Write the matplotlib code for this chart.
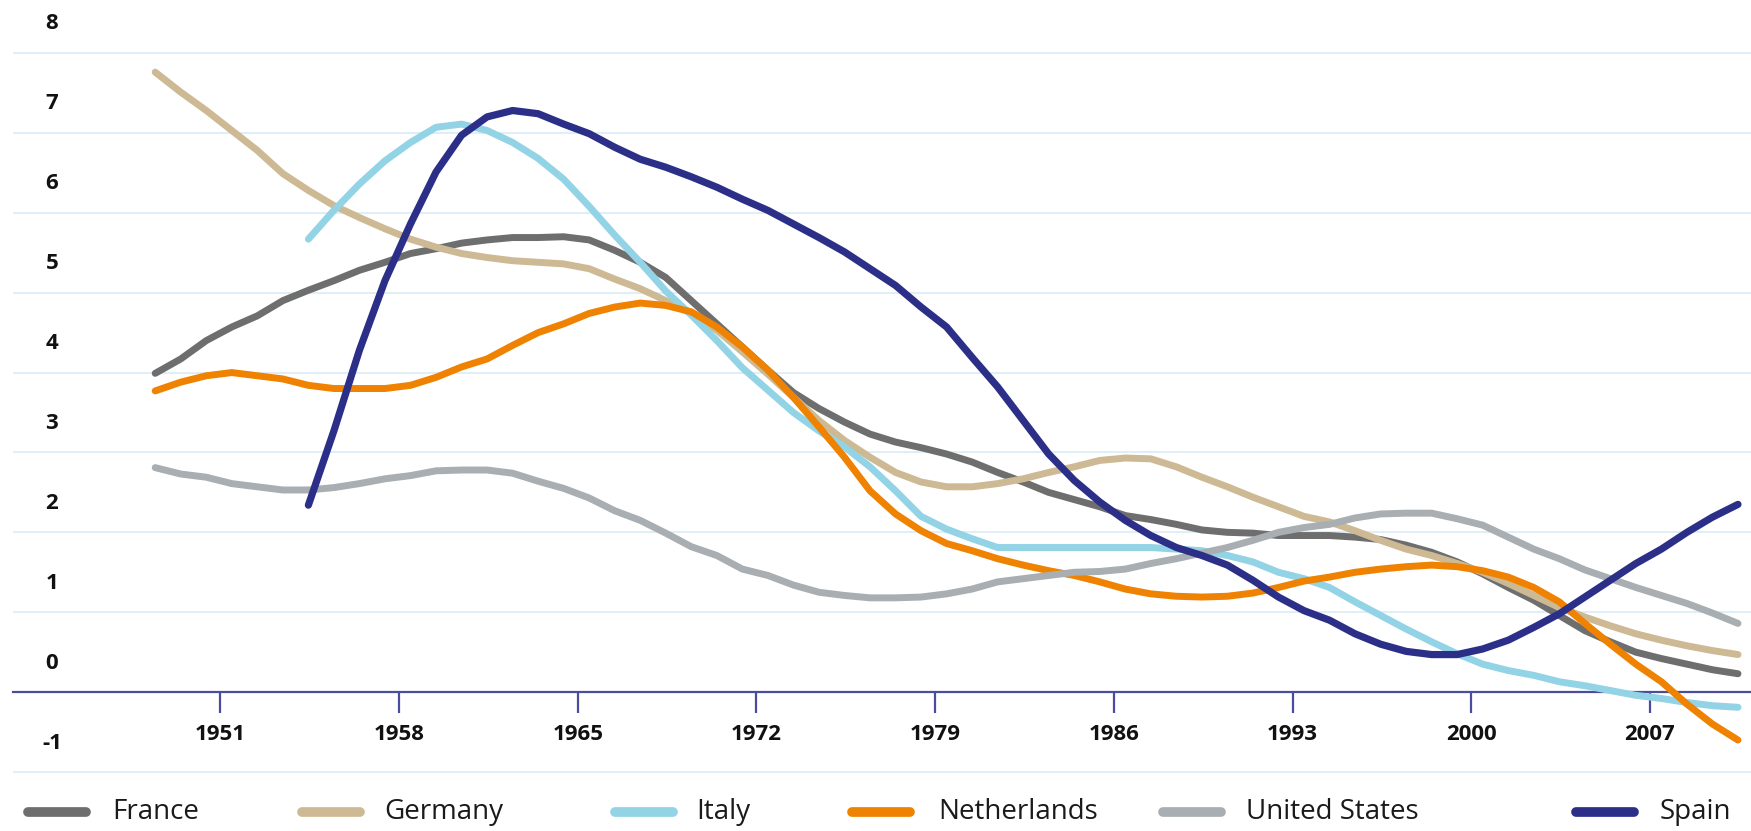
import matplotlib
matplotlib.use("Agg")
import matplotlib.pyplot as plt
from matplotlib.lines import Line2D
from matplotlib.transforms import ScaledTranslation
import numpy as np

plt.rcParams['font.family'] = ['Open Sans', 'DejaVu Sans']

# ---------------- data ----------------
years = list(range(1949, 2012))

france = [3.99, 4.17, 4.40, 4.57, 4.71, 4.90, 5.03, 5.15, 5.28, 5.38,
          5.49, 5.55, 5.62, 5.66, 5.69, 5.69, 5.70, 5.66, 5.53, 5.38,
          5.19, 4.90, 4.61, 4.32, 4.03, 3.75, 3.55, 3.38, 3.23, 3.13,
          3.06, 2.98, 2.88, 2.75, 2.63, 2.50, 2.41, 2.32, 2.21, 2.16,
          2.10, 2.03, 2.00, 1.99, 1.96, 1.96, 1.96, 1.94, 1.91, 1.84,
          1.75, 1.63, 1.48, 1.31, 1.15, 0.96, 0.77, 0.63, 0.50, 0.42,
          0.35, 0.28, 0.23]

germany = [7.76, 7.51, 7.28, 7.03, 6.78, 6.49, 6.28, 6.09, 5.94, 5.80,
           5.67, 5.57, 5.49, 5.44, 5.40, 5.38, 5.36, 5.30, 5.17, 5.05,
           4.90, 4.74, 4.53, 4.26, 3.98, 3.69, 3.40, 3.15, 2.94, 2.75,
           2.63, 2.57, 2.57, 2.61, 2.67, 2.75, 2.82, 2.90, 2.93, 2.92,
           2.82, 2.69, 2.57, 2.44, 2.32, 2.20, 2.13, 2.02, 1.90, 1.79,
           1.71, 1.61, 1.50, 1.36, 1.21, 1.06, 0.94, 0.83, 0.73, 0.65,
           0.58, 0.52, 0.47]

italy = [None, None, None, None, None, None,
         5.67, 6.03, 6.36, 6.65, 6.88, 7.07, 7.11, 7.03, 6.88, 6.68,
         6.42, 6.08, 5.72, 5.38, 5.02, 4.72, 4.40, 4.06, 3.78, 3.50,
         3.27, 3.07, 2.82, 2.52, 2.20, 2.04, 1.92, 1.81, 1.81, 1.81,
         1.81, 1.81, 1.81, 1.81, 1.79, 1.77, 1.71, 1.63, 1.50, 1.42,
         1.31, 1.13, 0.96, 0.79, 0.63, 0.48, 0.35, 0.27, 0.21, 0.13,
         0.08, 0.02, -0.04, -0.08, -0.13, -0.17, -0.19]

netherlands = [3.77, 3.88, 3.96, 4.00, 3.96, 3.92, 3.84, 3.80, 3.80, 3.80,
               3.84, 3.94, 4.07, 4.17, 4.34, 4.50, 4.61, 4.74, 4.82, 4.87,
               4.84, 4.76, 4.57, 4.32, 4.03, 3.69, 3.32, 2.94, 2.52, 2.23,
               2.02, 1.86, 1.77, 1.67, 1.59, 1.52, 1.46, 1.38, 1.29, 1.23,
               1.20, 1.19, 1.20, 1.24, 1.31, 1.39, 1.44, 1.50, 1.54, 1.57,
               1.59, 1.57, 1.52, 1.44, 1.31, 1.13, 0.86, 0.60, 0.35, 0.13,
               -0.15, -0.40, -0.60]

united_states = [2.81, 2.73, 2.69, 2.61, 2.57, 2.53, 2.53, 2.56, 2.61, 2.67,
                 2.71, 2.77, 2.78, 2.78, 2.74, 2.64, 2.55, 2.43, 2.27, 2.15,
                 1.99, 1.82, 1.71, 1.54, 1.46, 1.34, 1.25, 1.21, 1.18, 1.18,
                 1.19, 1.23, 1.29, 1.38, 1.42, 1.46, 1.50, 1.51, 1.54, 1.61,
                 1.67, 1.74, 1.81, 1.90, 2.00, 2.06, 2.10, 2.18, 2.23, 2.24,
                 2.24, 2.17, 2.09, 1.94, 1.79, 1.67, 1.53, 1.42, 1.31, 1.21,
                 1.11, 0.99, 0.86]

spain = [None, None, None, None, None, None,
         2.34, 3.27, 4.28, 5.15, 5.86, 6.51, 6.97, 7.20, 7.28, 7.24,
         7.11, 6.99, 6.82, 6.67, 6.57, 6.45, 6.32, 6.17, 6.03, 5.86,
         5.69, 5.51, 5.30, 5.09, 4.82, 4.57, 4.19, 3.82, 3.40, 2.98,
         2.65, 2.38, 2.15, 1.96, 1.81, 1.71, 1.59, 1.40, 1.19, 1.02,
         0.90, 0.73, 0.60, 0.51, 0.47, 0.47, 0.54, 0.65, 0.81, 0.98,
         1.19, 1.40, 1.61, 1.79, 2.00, 2.19, 2.35]

series_names = ["France", "Germany", "Italy", "Netherlands", "United States", "Spain"]
series_values = [france, germany, italy, netherlands, united_states, spain]
x_tick_labels = ["1951", "1958", "1965", "1972", "1979", "1986", "1993", "2000", "2007"]
y_tick_values = [-1, 0, 1, 2, 3, 4, 5, 6, 7, 8]

# ---------------- style ----------------
colors = ["#6e6e6e", "#cdb994", "#92d3e6", "#ef8200", "#a8aeb1", "#2c2f88"]
widths = [5.0, 5.0, 5.0, 5.0, 5.0, 5.2]
navy = "#4c4c9c"
grid_col = "#dcedf7"
legend_handle_x = [28, 302, 615, 852, 1163, 1576]   # pixel positions of legend entries
legend_text_x = [112, 384, 696, 938, 1246, 1660]

W, H = 1751, 831
fig = plt.figure(figsize=(W / 100, H / 100), dpi=100)
ax = fig.add_axes([13 / W, 51 / H, 1738 / W, 735 / H])

for name, vals, c, lw in zip(series_names, series_values, colors, widths):
    v = np.array([np.nan if a is None else a for a in vals], dtype=float)
    ax.plot(years, v, color=c, lw=lw, solid_capstyle='round',
            solid_joinstyle='round', label=name)

ax.set_xlim(1943.43, 2011.51)
ax.set_ylim(-1.1, 8.1)

# grid
ax.set_yticks(y_tick_values)
ax.yaxis.grid(True, color=grid_col, lw=1.3)
ax.set_axisbelow(True)
ax.tick_params(axis='y', length=0, labelleft=False)

# y labels drawn above their gridlines
off = ScaledTranslation(0, 0.29, fig.dpi_scale_trans)
for v in y_tick_values:
    ax.text(0.0224, v, str(v), transform=ax.get_yaxis_transform() + off,
            ha='center', va='center', fontsize=16, fontweight='bold',
            color='#111111')

# x axis at zero
for s in ['top', 'right', 'left']:
    ax.spines[s].set_visible(False)
ax.spines['bottom'].set_position(('data', 0))
ax.spines['bottom'].set_color(navy)
ax.spines['bottom'].set_linewidth(1.6)
ax.spines['bottom'].set_zorder(1.5)
ax.set_xticks([int(t) + 0.55 for t in x_tick_labels])
ax.set_xticklabels(x_tick_labels)
ax.tick_params(axis='x', direction='out', length=15, width=1.6, color=navy,
               pad=8, labelsize=16, labelcolor='#111111')
for lab in ax.get_xticklabels():
    lab.set_fontweight('bold')

# manual legend
ly = 1 - 812 / H
for name, c, hx, tx in zip(series_names, colors, legend_handle_x, legend_text_x):
    fig.add_artist(Line2D([hx / W, (hx + 58) / W], [ly, ly], color=c, lw=7,
                          solid_capstyle='round', transform=fig.transFigure))
    fig.text(tx / W, ly, name, ha='left', va='center', fontsize=20,
             color='#1a1a1a')

fig.savefig("out.png", dpi=100)
